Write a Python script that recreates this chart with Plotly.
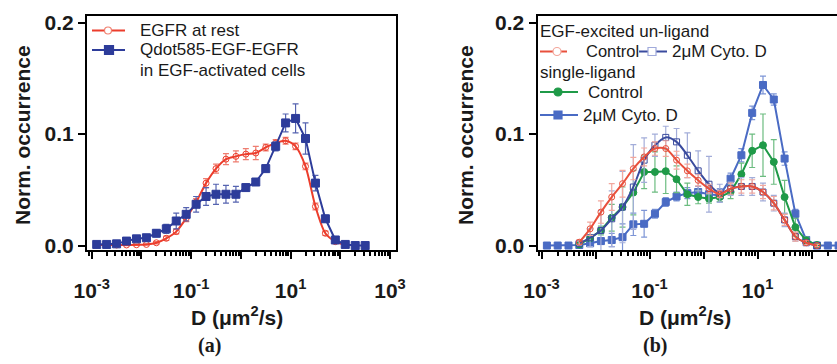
import numpy as np
import plotly.graph_objects as go

W, H = 837, 364

# Bin centres (log10 of D in um^2/s)
log_d = [-2.9, -2.7, -2.5, -2.3, -2.1, -1.9, -1.7, -1.5, -1.3, -1.1,
         -0.9, -0.7, -0.5, -0.3, -0.1, 0.1, 0.3, 0.5, 0.7, 0.9,
         1.1, 1.3, 1.5, 1.7, 1.9, 2.1, 2.3, 2.5]
D = [10 ** v for v in log_d]

# Panel (a)
rest_y = [0.0005, 0.0005, 0.0005, 0.0005, 0.0007, 0.001, 0.0025, 0.0065, 0.0125, 0.0245,
          0.039, 0.056, 0.069, 0.0775, 0.080, 0.082, 0.083, 0.088, 0.092, 0.094,
          0.089, 0.071, 0.035, 0.011, 0.0035, 0.0005, None, None]
rest_err = [0.0005, 0.0005, 0.0005, 0.0005, 0.0005, 0.0005, 0.001, 0.002, 0.002, 0.003,
            0.003, 0.004, 0.004, 0.005, 0.005, 0.005, 0.006, 0.003, 0.003, 0.003,
            0.003, 0.003, 0.003, 0.002, 0.001, 0.0005, 0, 0]
qdot_y = [0.001, 0.001, 0.0015, 0.004, 0.006, 0.007, 0.011, 0.015, 0.022, 0.028,
          0.037, 0.044, 0.046, 0.046, 0.046, 0.052, 0.057, 0.069, 0.089, 0.110,
          0.114, 0.096, 0.056, 0.024, 0.005, 0.001, 0.0, 0.0]
qdot_err = [0.0005, 0.0005, 0.0005, 0.001, 0.001, 0.001, 0.003, 0.004, 0.007, 0.006,
            0.007, 0.008, 0.009, 0.008, 0.007, 0.003, 0.003, 0.003, 0.004, 0.008,
            0.013, 0.014, 0.007, 0.003, 0.002, 0.0005, 0, 0]

# Panel (b)
un_ctrl_y = [None, None, None, 0.003, 0.015, 0.030, 0.0435, 0.0555, 0.069, 0.0795,
             0.087, 0.087, 0.0766, 0.067, 0.0585, 0.051, 0.046, 0.051, 0.053, 0.053,
             0.048, 0.038, 0.023, 0.008, 0.0025, 0.0, None, None]
un_ctrl_err = [0, 0, 0, 0.002, 0.006, 0.010, 0.012, 0.012, 0.010, 0.008,
               0.006, 0.007, 0.008, 0.006, 0.005, 0.004, 0.003, 0.005, 0.006, 0.006,
               0.006, 0.006, 0.005, 0.004, 0.002, 0.001, 0, 0]
un_cyto_y = [None, None, None, 0.002, 0.007, 0.0135, 0.024, 0.0345, 0.0525, 0.0766,
             0.090, 0.097, 0.093, 0.081, 0.067, 0.055, 0.047, 0.051, 0.053, 0.053,
             0.048, 0.038, 0.023, 0.008, 0.0025, 0.0, None, None]
un_cyto_err = [0, 0, 0, 0.002, 0.008, 0.018, 0.025, 0.032, 0.038, 0.020,
               0.010, 0.010, 0.012, 0.020, 0.018, 0.025, 0.008, 0.006, 0.008, 0.008,
               0.008, 0.007, 0.006, 0.004, 0.002, 0.001, 0, 0]
sl_ctrl_y = [None, None, None, 0.001, 0.0066, 0.0135, 0.025, 0.0345, 0.0475, 0.066,
             0.066, 0.0667, 0.0595, 0.046, 0.0435, 0.042, 0.0435, 0.048, 0.064, 0.085,
             0.090, 0.075, 0.0435, 0.0165, 0.0045, 0.0005, None, None]
sl_ctrl_err = [0, 0, 0, 0.001, 0.002, 0.004, 0.012, 0.018, 0.020, 0.015,
               0.018, 0.020, 0.012, 0.010, 0.006, 0.004, 0.004, 0.006, 0.010, 0.015,
               0.028, 0.020, 0.015, 0.008, 0.003, 0.001, 0, 0]
sl_cyto_y = [0.0, 0.0, 0.0, 0.0005, 0.002, 0.004, 0.005, 0.0075, 0.019, 0.0195,
             0.0285, 0.039, 0.044, 0.047, 0.048, 0.046, 0.045, 0.060, 0.081, 0.119,
             0.144, 0.131, 0.078, 0.0285, 0.005, 0.0, 0.0, 0.0]
sl_cyto_err = [0.0005, 0.0005, 0.0005, 0.001, 0.002, 0.003, 0.006, 0.012, 0.010, 0.012,
               0.004, 0.004, 0.004, 0.005, 0.005, 0.005, 0.006, 0.005, 0.006, 0.006,
               0.008, 0.005, 0.006, 0.004, 0.002, 0.0005, 0.0005, 0.0005]

RED = "#ec3d2c"
NAVY = "#2d3c9a"
RED_B = "#e8503c"
NAVY_B = "#3a4b9e"
GREEN = "#1f9a48"
BLUE_B = "#4a6bc4"
INK = "#1a1a1a"

fig = go.Figure()


def series(x, y, err, xa, ya, color, ecolor, symbol, msize, shape, mfill=None, mline=None):
    fig.add_trace(go.Scatter(
        x=x, y=y, xaxis=xa, yaxis=ya, mode="lines+markers",
        line=dict(color=color, width=2, shape=shape, smoothing=0.8),
        marker=dict(symbol=symbol, size=msize, color=mfill or color,
                    line=dict(color=mline or color, width=1)),
        error_y=dict(type="data", array=err, color=ecolor, thickness=1.2, width=3),
        connectgaps=False, showlegend=False, cliponaxis=True,
    ))


# Panel (a)
series(D, rest_y, rest_err, "x", "y", RED, "#ee7d70", "circle-open", 6, "spline")
series(D, qdot_y, qdot_err, "x", "y", NAVY, "#5563b0", "square", 8, "linear")

# Panel (b)
series(D, sl_cyto_y, sl_cyto_err, "x2", "y2", BLUE_B, "#7d95d6", "square", 7, "linear")
series(D, sl_ctrl_y, sl_ctrl_err, "x2", "y2", GREEN, "#6cbc80", "circle", 7, "linear")
series(D, un_cyto_y, un_cyto_err, "x2", "y2", NAVY_B, "#a3add9", "square-open", 6, "spline",
       mline="#a0aadb")
series(D, un_ctrl_y, un_ctrl_err, "x2", "y2", RED_B, "#f2a89e", "circle-open", 6, "spline",
       mline="#f3a69b")

decades = [1e-3, 1e-2, 1e-1, 1e0, 1e1, 1e2, 1e3]
dec_text = ["10<sup>-3</sup>", "", "10<sup>-1</sup>", "", "10<sup>1</sup>", "", "10<sup>3</sup>"]
minor_vals = [m * 10.0 ** e for e in range(-4, 3) for m in range(2, 10)]

tick_font = dict(family="Liberation Sans", size=21, color=INK, weight="bold")
ytick_font = dict(family="Liberation Sans", size=21, color=INK, weight="bold")


def xax(domain, rng):
    return dict(type="log", domain=domain, range=rng, showline=True, linecolor="black",
                linewidth=2, mirror=True, ticks="outside", ticklen=7, tickwidth=2,
                tickcolor="black", tickmode="array", tickvals=decades, ticktext=dec_text,
                tickfont=tick_font, ticklabelstandoff=14, showgrid=False, zeroline=False,
                automargin=False,
                minor=dict(ticks="outside", ticklen=4, tickwidth=1.5, tickcolor="black",
                           tickmode="array", tickvals=minor_vals, showgrid=False))


def yax(domain, anchor, mirror):
    return dict(domain=domain, range=[-0.004, 0.2059], anchor=anchor, showline=True,
                linecolor="black", linewidth=2, mirror=mirror, ticks="outside", ticklen=7,
                tickwidth=2, tickcolor="black", tickmode="array", tickvals=[0, 0.1, 0.2],
                ticktext=["0.0", "0.1", "0.2"], tickfont=ytick_font, showgrid=False,
                zeroline=False, automargin=False)


ydom = [(H - 250) / H, (H - 16) / H]
fig.update_layout(
    width=W, height=H, margin=dict(l=0, r=0, t=0, b=0),
    paper_bgcolor="white", plot_bgcolor="white", template="none", showlegend=False,
    xaxis=xax([87 / W, 395.5 / W], [-3.095, 3.11]) | dict(anchor="y"),
    yaxis=yax(ydom, "x", True),
    xaxis2=xax([537.5 / W, 1.0], [-3.074, 2.47]) | dict(anchor="y2"),
    yaxis2=yax(ydom, "x2", False),
)


def px(x):
    return x / W


def py(y):
    return 1 - y / H


shapes = []
annos = []
leg_font = dict(family="Liberation Sans", size=17, color=INK)


def text(x, y, s, font=leg_font, xanchor="left", angle=0):
    annos.append(dict(x=px(x), y=py(y), xref="paper", yref="paper", text=s, showarrow=False,
                      xanchor=xanchor, yanchor="middle", font=font, textangle=angle))


def glyph_line(x0, x1, y, color):
    shapes.append(dict(type="line", xref="paper", yref="paper", x0=px(x0), x1=px(x1),
                       y0=py(y), y1=py(y), line=dict(color=color, width=2)))


def glyph_marker(kind, cx, cy, r, edge, fill):
    shapes.append(dict(type=kind, xref="paper", yref="paper", x0=px(cx - r), x1=px(cx + r),
                       y0=py(cy - r), y1=py(cy + r), line=dict(color=edge, width=1.2),
                       fillcolor=fill))


# Legend of panel (a)
glyph_line(92, 125, 30.5, RED)
glyph_marker("circle", 108, 30.5, 3.5, "#f08070", "white")
text(138, 30.5, "EGFR at rest")
glyph_line(92, 125, 50, NAVY)
glyph_marker("rect", 109, 50, 4.5, NAVY, NAVY)
text(138, 50, "Qdot585-EGF-EGFR")
text(138, 70.5, "in EGF-activated cells")

# Legend of panel (b)
text(538, 31, "EGF-excited un-ligand")
glyph_line(540, 567, 51.5, RED_B)
glyph_marker("circle", 557, 51.5, 4, "#f3a69b", "white")
text(584, 51.5, "Control", font=dict(leg_font, size=16.5))
glyph_line(639, 667, 51.5, NAVY_B)
glyph_marker("rect", 652, 51.5, 4, "#a0aadb", "white")
text(670, 51.5, "2\u03bcM Cyto. D")
text(538, 72.5, "single-ligand")
glyph_line(540, 578, 92, GREEN)
glyph_marker("circle", 558, 92, 4, GREEN, GREEN)
text(586, 92, "Control")
glyph_line(540, 578, 115, BLUE_B)
glyph_marker("rect", 558, 115, 4, BLUE_B, BLUE_B)
text(581, 115, "2\u03bcM Cyto. D")

# Axis titles and panel labels
title_font = dict(family="Liberation Sans", size=21, color=INK, weight="bold")
for cx in (237.5, 685):
    text(cx, 316, "D (\u03bcm<sup>2</sup>/s)", font=title_font, xanchor="center")
for cx in (22, 465):
    text(cx, 135, "Norm. occurrence", font=title_font, xanchor="center", angle=-90)
panel_font = dict(family="Liberation Serif", size=20, color=INK, weight="bold")
text(210, 345, "(a)", font=panel_font, xanchor="center")
text(655, 345, "(b)", font=panel_font, xanchor="center")

fig.update_layout(shapes=shapes, annotations=annos)
fig.write_html("out.html")
